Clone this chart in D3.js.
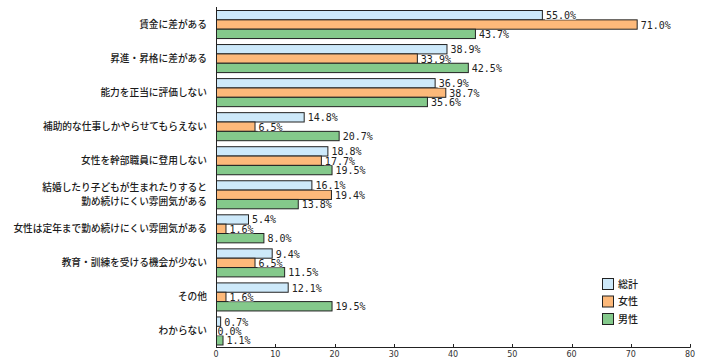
<!DOCTYPE html>
<html><head><meta charset="utf-8">
<script src="https://cdn.jsdelivr.net/npm/d3@7"></script>
<style>body{margin:0;background:#fff}svg{display:block}</style>
</head><body>
<svg id="c" width="711" height="358"></svg>
<script>
const categories = [
  ["賃金に差がある"],
  ["昇進・昇格に差がある"],
  ["能力を正当に評価しない"],
  ["補助的な仕事しかやらせてもらえない"],
  ["女性を幹部職員に登用しない"],
  ["結婚したり子どもが生まれたりすると","勤め続けにくい雰囲気がある"],
  ["女性は定年まで勤め続けにくい雰囲気がある"],
  ["教育・訓練を受ける機会が少ない"],
  ["その他"],
  ["わからない"]
];
const seriesNames = ["総計","女性","男性"];
const total = [55.0, 38.9, 36.9, 14.8, 18.8, 16.1, 5.4, 9.4, 12.1, 0.7];
const female = [71.0, 33.9, 38.7, 6.5, 17.7, 19.4, 1.6, 6.5, 1.6, 0.0];
const male = [43.7, 42.5, 35.6, 20.7, 19.5, 13.8, 8.0, 11.5, 19.5, 1.1];
const xTicks = [0,10,20,30,40,50,60,70,80];
const colors = ["#cde9fa","#fdb97a","#84c98b"];

const series = [total, female, male];
const svg = d3.select("#c");
const x = d3.scaleLinear().domain([0,80]).range([216,690]);
const y0 = d3.scaleBand().domain(d3.range(categories.length)).range([7,347.5]);
const y1 = d3.scaleBand().domain(d3.range(3)).range([3, y0.bandwidth()-3]);

// bars
categories.forEach((cat,i)=>{
  const g = svg.append("g").attr("transform",`translate(0,${y0(i)})`);
  series.forEach((s,j)=>{
    g.append("rect")
      .attr("x", x(0)+0.5).attr("y", y1(j)+0.5)
      .attr("width", Math.max(0, x(s[i])-x(0)))
      .attr("height", y1.bandwidth())
      .attr("fill", colors[j]).attr("stroke", "#222").attr("stroke-width",1)
      .attr("display", s[i]===0 ? "none" : null);
  });
});
// labels: backgrounds first, then texts
const labels = [];
categories.forEach((cat,i)=>{
  series.forEach((s,j)=>{
    const lx = s[i]===0 ? x(0)+1.5 : x(s[i])+4;
    const ly = y0(i)+y1(j)+y1.bandwidth()/2+1;
    labels.push({lx, ly, t: s[i].toFixed(1)+"%"});
  });
});
svg.append("g").selectAll("rect").data(labels).join("rect")
  .attr("x",d=>d.lx-1).attr("y",d=>d.ly-3.5).attr("width",d=>d.t.length*6+1).attr("height",7.5).attr("fill","#fff");
svg.append("g").selectAll("text").data(labels).join("text")
  .attr("x",d=>d.lx).attr("y",d=>d.ly).attr("dy","0.35em")
  .attr("font-family","DejaVu Sans Mono").attr("font-size",10).attr("fill","#222")
  .text(d=>d.t);
// category labels
categories.forEach((cat,i)=>{
  const cy = y0(i)+y0.bandwidth()/2;
  const n = cat.length;
  cat.forEach((line,k)=>{
    svg.append("text").attr("x",207).attr("y",cy+(k-(n-1)/2)*13.5).attr("dy","0.36em")
      .attr("text-anchor","end").attr("font-family","Noto Sans CJK JP").attr("font-weight",500)
      .attr("font-size",9.7).attr("fill","#1a1a1a").text(line);
  });
});
// axes
const ax = svg.append("g");
ax.append("line").attr("x1",x(0)).attr("x2",x(80)+0.5).attr("y1",347.5).attr("y2",347.5).attr("stroke","#222");
ax.append("line").attr("x1",x(0)+0.5).attr("x2",x(0)+0.5).attr("y1",7).attr("y2",347.5).attr("stroke","#222");
xTicks.forEach(t=>{
  ax.append("line").attr("x1",Math.round(x(t))+0.5).attr("x2",Math.round(x(t))+0.5).attr("y1",344).attr("y2",347.5).attr("stroke","#222");
  ax.append("text").attr("x",x(t)).attr("y",354).attr("dy","0.35em").attr("text-anchor","middle")
    .attr("font-family","DejaVu Sans").attr("font-size",8).attr("fill","#333").text(t);
});
// legend
seriesNames.forEach((nm,j)=>{
  const ly = 278.5 + j*17.5;
  svg.append("rect").attr("x",602.5).attr("y",ly).attr("width",11).attr("height",11)
    .attr("fill",colors[j]).attr("stroke","#222");
  svg.append("text").attr("x",618).attr("y",ly+5.5).attr("dy","0.36em")
    .attr("font-family","Noto Sans CJK JP").attr("font-weight",500).attr("font-size",10).attr("fill","#1a1a1a").text(nm);
});
</script>
</body></html>
